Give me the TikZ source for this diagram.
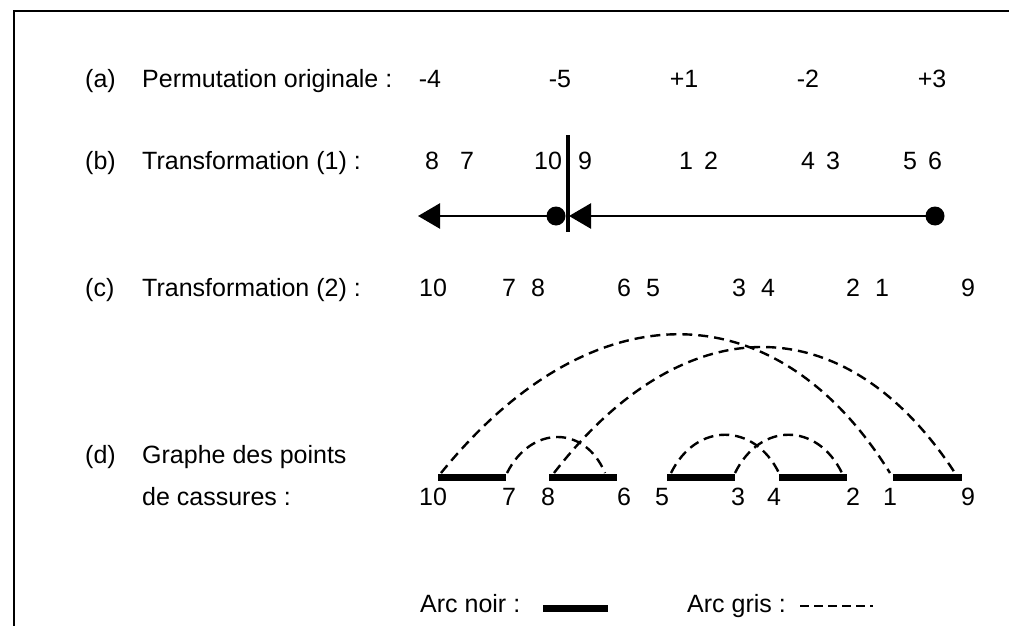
\documentclass[tikz,border=0pt]{standalone}
\usepackage{fontspec}
\setmainfont{Liberation Sans}
\usetikzlibrary{arrows.meta}
\begin{document}
\begin{tikzpicture}[x=1pt,y=-1pt,
  txt/.style={inner sep=0pt, font=\fontsize{25}{30}\selectfont},
  lbl/.style={txt, anchor=base west},
  num/.style={txt, anchor=base},
  frameline/.style={line width=2.5pt},
  axis/.style={line width=2.5pt},
  cutbar/.style={line width=3.5pt},
  dotmark/.style={circle, fill=black, inner sep=0pt, minimum size=19pt},
  bigtip/.style={-{Triangle[length=22pt,width=25pt]}},
  blackarc/.style={line width=7pt},
  grayarc/.style={line width=2.4pt, dash pattern=on 10pt off 6pt},
  legdash/.style={line width=1.7pt, dash pattern=on 9pt off 5pt}]
\useasboundingbox (0,0) rectangle (1009,626);
% frame (open on the right and bottom)
\coordinate (fa) at (1009,11);
\coordinate (fb) at (14,11);
\coordinate (fc) at (14,626);
\draw[frameline] (fa) -- (fb) -- (fc);

% row (a)
\node[lbl] (la) at (85,87) {(a)};
\node[lbl] (ta) at (142,87) {Permutation originale :};
\node[num] (a1) at (430,87) {-4};
\node[num] (a2) at (560,87) {-5};
\node[num] (a3) at (684,87) {+1};
\node[num] (a4) at (808,87) {-2};
\node[num] (a5) at (932,87) {+3};

% row (b)
\node[lbl] (lb) at (85,169) {(b)};
\node[lbl] (tb) at (142,169) {Transformation (1) :};
\node[num] (b8) at (432,169) {8};
\node[num] (b7) at (467,169) {7};
\node[num] (b10) at (548,169) {10};
\node[num] (b9) at (585,169) {9};
\node[num] (b1) at (686,169) {1};
\node[num] (b2) at (711,169) {2};
\node[num] (b4) at (808,169) {4};
\node[num] (b3) at (833,169) {3};
\node[num] (b5) at (910,169) {5};
\node[num] (b6) at (935,169) {6};

\coordinate (cutt) at (568,135);
\coordinate (cutb) at (568,232);
\draw[cutbar] (cutt) -- (cutb);
\node[dotmark] (d1) at (556,216) {};
\node[dotmark] (d2) at (935,216) {};
\coordinate (tipl) at (418,216);
\coordinate (tipr) at (569,216);
\draw[axis,bigtip] (d1.center) -- (tipl);
\draw[axis,bigtip] (d2.center) -- (tipr);

% row (c)
\node[lbl] (lc) at (85,296) {(c)};
\node[lbl] (tc) at (142,296) {Transformation (2) :};
\node[num] (c10) at (433,296) {10};
\node[num] (c7) at (509,296) {7};
\node[num] (c8) at (538,296) {8};
\node[num] (c6) at (624,296) {6};
\node[num] (c5) at (653,296) {5};
\node[num] (c3) at (739,296) {3};
\node[num] (c4) at (768,296) {4};
\node[num] (c2) at (853,296) {2};
\node[num] (c1) at (882,296) {1};
\node[num] (c9) at (968,296) {9};

% row (d)
\node[lbl] (ld) at (85,463) {(d)};
\node[lbl] (td1) at (142,463) {Graphe des points};
\node[lbl] (td2) at (142,505) {de cassures :};
\node[num] (e10) at (433,505) {10};
\node[num] (e7) at (509,505) {7};
\node[num] (e8) at (548,505) {8};
\node[num] (e6) at (624,505) {6};
\node[num] (e5) at (662,505) {5};
\node[num] (e3) at (738,505) {3};
\node[num] (e4) at (774,505) {4};
\node[num] (e2) at (853,505) {2};
\node[num] (e1) at (890,505) {1};
\node[num] (e9) at (968,505) {9};

% black arcs
\coordinate (k1l) at (438,477); \coordinate (k1r) at (506,477);
\coordinate (k2l) at (549,477); \coordinate (k2r) at (617,477);
\coordinate (k3l) at (667,477); \coordinate (k3r) at (735,477);
\coordinate (k4l) at (779,477); \coordinate (k4r) at (847,477);
\coordinate (k5l) at (893,477); \coordinate (k5r) at (962,477);
\draw[blackarc] (k1l) -- (k1r);
\draw[blackarc] (k2l) -- (k2r);
\draw[blackarc] (k3l) -- (k3r);
\draw[blackarc] (k4l) -- (k4r);
\draw[blackarc] (k5l) -- (k5r);

% gray arcs
\coordinate (g10) at (441,473); \coordinate (g1) at (890,473);
\coordinate (g8) at (554,473); \coordinate (g9) at (955,473);
\coordinate (g7) at (507,473); \coordinate (g6) at (605,473);
\coordinate (g5) at (671,473); \coordinate (g4) at (779,473);
\coordinate (g3) at (735,473); \coordinate (g2) at (842,473);
\draw[grayarc] (g10) .. controls +(150,-185) and +(-115,-185) .. (g1);
\draw[grayarc] (g8) .. controls +(130,-168) and +(-110,-168) .. (g9);
\draw[grayarc] (g7) .. controls +(24,-48) and +(-20,-48) .. (g6);
\draw[grayarc] (g5) .. controls +(25,-51) and +(-25,-51) .. (g4);
\draw[grayarc] (g3) .. controls +(25,-51) and +(-25,-51) .. (g2);

% legend
\node[lbl] (ln) at (420,612) {Arc noir :};
\coordinate (ln1) at (543,608); \coordinate (ln2) at (608,608);
\draw[blackarc] (ln1) -- (ln2);
\node[lbl] (lg) at (687,612) {Arc gris :};
\coordinate (lg1) at (800,606); \coordinate (lg2) at (873,606);
\draw[legdash] (lg1) -- (lg2);
\end{tikzpicture}
\end{document}
